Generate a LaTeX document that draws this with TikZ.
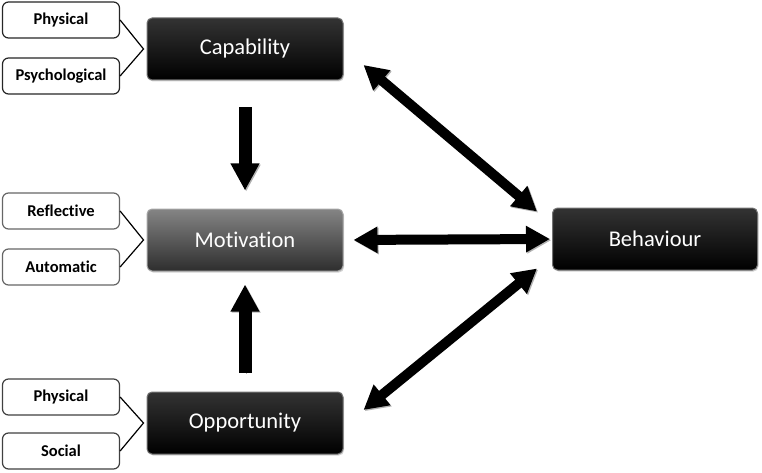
\documentclass[tikz,border=0pt]{standalone}
\usepackage{fontspec}
\setmainfont{Carlito}[Ligatures=NoCommon]
\newfontfamily\compfont{Carlito}[Ligatures=NoCommon]
\usetikzlibrary{positioning,calc,arrows.meta,shadows}
\tikzstyle{factor} = [draw=black!85, line width=1.2pt, rounded corners=6pt, fill=white, minimum width=117pt, minimum height=36pt, font=\bfseries\fontsize{16.5}{18}\selectfont]
\tikzstyle{comp} = [draw=black!55, line width=1pt, rounded corners=5pt, top color=black!80, bottom color=black, text=white, minimum width=196pt, minimum height=62pt, font=\compfont\fontsize{22.5}{26}\selectfont, drop shadow={opacity=0.35, shadow xshift=1pt, shadow yshift=-1.5pt}]
\tikzstyle{grey comp} = [comp, draw=black!35, top color=black!48, bottom color=black!82, middle color=black!65]
\tikzstyle{brace} = [line width=1.2pt]
\tikzstyle{to} = [line width=13pt, -{Triangle[width=27pt,length=27pt]}, preaction={draw=black!30, transform canvas={shift={(1.2pt,-1.2pt)}}}]
\tikzstyle{both} = [line width=10pt, {Triangle[width=25pt,length=24pt]}-{Triangle[width=25pt,length=24pt]}, preaction={draw=black!30, transform canvas={shift={(1.2pt,-1.2pt)}}}]
\begin{document}
\begin{tikzpicture}[x=1pt, y=-1pt]
	\useasboundingbox (0,0) rectangle (762,473);
	% main components
	\node (cap) [comp] at (245,49) {Capability};
	\node (mot) [grey comp] at (245,240) {Motivation};
	\node (opp) [comp] at (245,423) {Opportunity};
	\node (beh) [comp, minimum width=205pt] at (655,239) {Behaviour};
	% sub-components
	\node (capphys) [factor] at (61,20) {Physical};
	\node (cappsy) [factor] at (61,76) {Psychological};
	\node (refl) [factor, draw=black!60] at (61,211) {Reflective};
	\node (auto) [factor, draw=black!60] at (61,267) {Automatic};
	\node (oppphys) [factor, draw=black!75] at (61,397) {Physical};
	\node (soc) [factor, draw=black!75] at (61,451) {Social};
	\coordinate (capjoin) at ($(cap.west)+(-3,0)$);
	\coordinate (motjoin) at ($(mot.west)+(-3,0)$);
	\coordinate (oppjoin) at ($(opp.west)+(-3,0)$);
	\draw [brace] (capphys.east) -- (capjoin) -- (cappsy.east);
	\draw [brace] (refl.east) -- (motjoin) -- (auto.east);
	\draw [brace] (oppphys.east) -- (oppjoin) -- (soc.east);
	% links
	\draw [to, shorten <=27pt, shorten >=18pt] (cap.south) -- (mot.north);
	\draw [to, shorten <=19pt, shorten >=13pt] (opp.north) -- (mot.south);
	\draw [both] ($(cap.east)+(20,16)$) -- ($(beh.north west)+(-15,4)$);
	\draw [both, shorten <=10pt, shorten >=2pt] (mot.east) -- (beh.west);
	\draw [both] ($(opp.east)+(20,-13)$) -- ($(beh.south west)+(-15,-2)$);
\end{tikzpicture}
\end{document}
